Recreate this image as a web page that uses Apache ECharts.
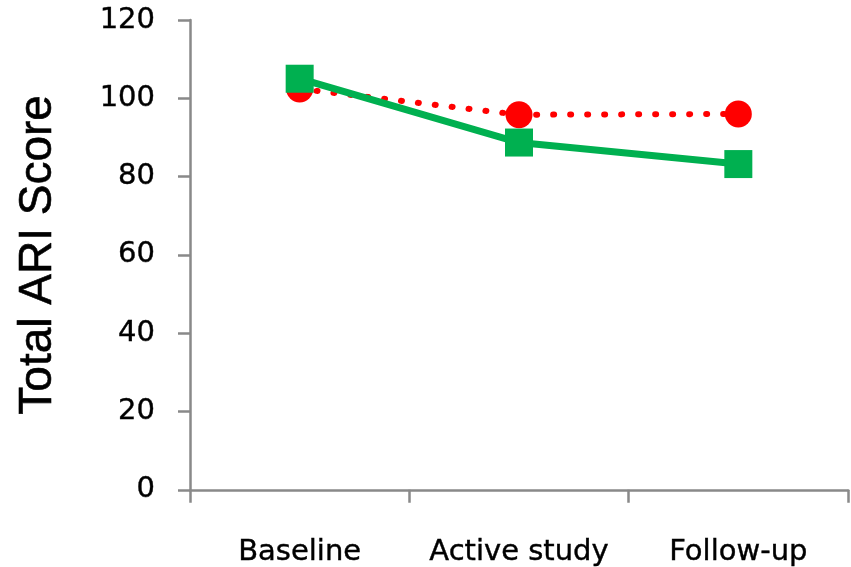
<!DOCTYPE html>
<html>
<head>
<meta charset="utf-8">
<script src="https://cdn.jsdelivr.net/npm/echarts@6/dist/echarts.min.js"></script>
<style>html,body{margin:0;padding:0;background:#fff;}#c{width:851px;height:567px;}</style>
</head>
<body>
<div id="c"></div>
<script>
const categories = ['Baseline', 'Active study', 'Follow-up'];
const redSeries = [102.4, 95.8, 96.0];
const greenSeries = [105.0, 88.7, 83.2];
const yTicks = [0, 20, 40, 60, 80, 100, 120];

const chart = echarts.init(document.getElementById('c'), null, {renderer: 'canvas'});
const axisColor = '#898989';
chart.setOption({
  animation: false,
  backgroundColor: '#ffffff',
  grid: {left: 190, right: 3, top: 20, bottom: 77, containLabel: false},
  xAxis: {
    type: 'category',
    data: categories,
    boundaryGap: true,
    axisLine: {lineStyle: {color: axisColor, width: 2.5}},
    axisTick: {show: true, length: 13, interval: 0, alignWithLabel: false, lineStyle: {color: axisColor, width: 2.5}},
    axisLabel: {fontFamily: 'DejaVu Sans', fontSize: 29, color: '#000', margin: 48, interval: 0, hideOverlap: false, textBorderColor: '#000', textBorderWidth: 0.4}
  },
  yAxis: {
    type: 'value',
    min: yTicks[0],
    max: yTicks[yTicks.length - 1],
    interval: 20,
    name: 'Total ARI Score',
    nameLocation: 'middle',
    nameGap: 129,
    nameTextStyle: {fontFamily: 'Liberation Sans', fontSize: 46, color: '#000', textBorderColor: '#000', textBorderWidth: 0.6},
    splitLine: {show: false},
    axisLine: {show: true, lineStyle: {color: axisColor, width: 2.5}},
    axisTick: {show: true, length: 12, lineStyle: {color: axisColor, width: 2.5}},
    axisLabel: {fontFamily: 'DejaVu Sans', fontSize: 29, color: '#000', margin: 35, textBorderColor: '#000', textBorderWidth: 0.4}
  },
  series: [
    {
      type: 'line',
      data: redSeries,
      symbol: 'circle',
      symbolSize: 27,
      itemStyle: {color: '#ff0000'},
      lineStyle: {color: '#ff0000', width: 6, type: [1, 16], cap: 'round'}
    },
    {
      type: 'line',
      data: greenSeries,
      symbol: 'rect',
      symbolSize: 28,
      itemStyle: {color: '#00b050'},
      lineStyle: {color: '#00b050', width: 7}
    }
  ]
});
</script>
</body>
</html>
